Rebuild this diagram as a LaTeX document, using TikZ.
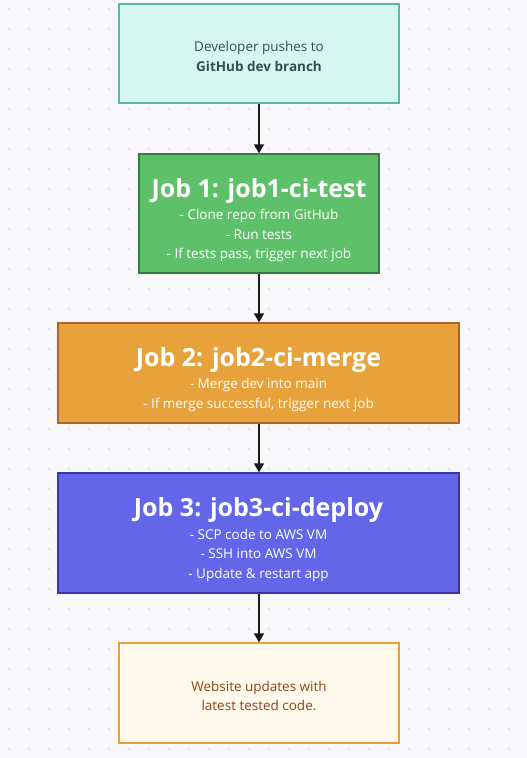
\documentclass[tikz,border=0pt]{standalone}
\usepackage{fontspec}
\setmainfont{Open Sans}
\usetikzlibrary{arrows.meta}

\definecolor{bgpage}{RGB}{248,248,250}
\definecolor{bgdot}{RGB}{222,222,226}
\definecolor{pushfill}{RGB}{212,248,238}
\definecolor{pushline}{RGB}{92,184,164}
\definecolor{pushtext}{RGB}{52,80,76}
\definecolor{testfill}{RGB}{94,193,106}
\definecolor{testline}{RGB}{58,122,66}
\definecolor{mergefill}{RGB}{232,162,60}
\definecolor{mergeline}{RGB}{178,98,40}
\definecolor{deployfill}{RGB}{99,102,232}
\definecolor{deployline}{RGB}{56,54,168}
\definecolor{sitefill}{RGB}{255,250,235}
\definecolor{siteline}{RGB}{234,160,56}
\definecolor{sitetext}{RGB}{138,68,28}

\newcommand{\jobtitle}[1]{{\fontsize{25}{29}\selectfont\bfseries\rule{0pt}{32pt}#1}\\[3pt]}

\begin{document}
\begin{tikzpicture}[x=1pt,y=-1pt,
		jobbox/.style={draw, line width=1.3pt, rectangle, align=center, inner sep=0pt,
			font=\fontsize{13.5}{19.5}\selectfont, text=white},
		flow/.style={-{Triangle[width=10pt,length=9pt]}, line width=1.4pt, black!90}]
		% page and dot grid
		\fill[bgpage] (0,0) rectangle (527,758);
		\useasboundingbox (0,0) rectangle (527,758);
		\foreach \i in {0,...,25} {
			\foreach \j in {0,...,37} {
				\fill[bgdot] (9+20*\i, 9+20*\j) circle (1.1pt);
			}
		}
		% boxes
		\node[jobbox, fill=pushfill, draw=pushline, text=pushtext,
			minimum width=280pt, minimum height=99pt] (push) at (259,53.5)
			{\rule{0pt}{16pt}Developer pushes to\\ \bfseries GitHub dev branch};
		\node[jobbox, fill=testfill, draw=testline,
			minimum width=240pt, minimum height=119pt] (test) at (259,213.5)
			{\jobtitle{Job 1: job1-ci-test}- Clone repo from GitHub\\- Run tests\\- If tests pass, trigger next job};
		\node[jobbox, fill=mergefill, draw=mergeline,
			minimum width=401pt, minimum height=100pt] (merge) at (258.5,373)
			{\jobtitle{Job 2: job2-ci-merge}- Merge dev into main\\- If merge successful, trigger next job};
		\node[jobbox, fill=deployfill, draw=deployline,
			minimum width=401pt, minimum height=120pt] (deploy) at (258.5,533)
			{\jobtitle{Job 3: job3-ci-deploy}- SCP code to AWS VM\\- SSH into AWS VM\\- Update \& restart app};
		\node[jobbox, fill=sitefill, draw=siteline, text=sitetext,
			minimum width=280pt, minimum height=100pt] (site) at (259,693)
			{\rule{0pt}{16pt}Website updates with\\latest tested code.};
		% arrows
		\draw[flow] (push) -- (test);
		\draw[flow] (test) -- (test|-merge.north);
		\draw[flow] (test|-merge.south) -- (test|-deploy.north);
		\draw[flow] (test|-deploy.south) -- (site);
\end{tikzpicture}
\end{document}
